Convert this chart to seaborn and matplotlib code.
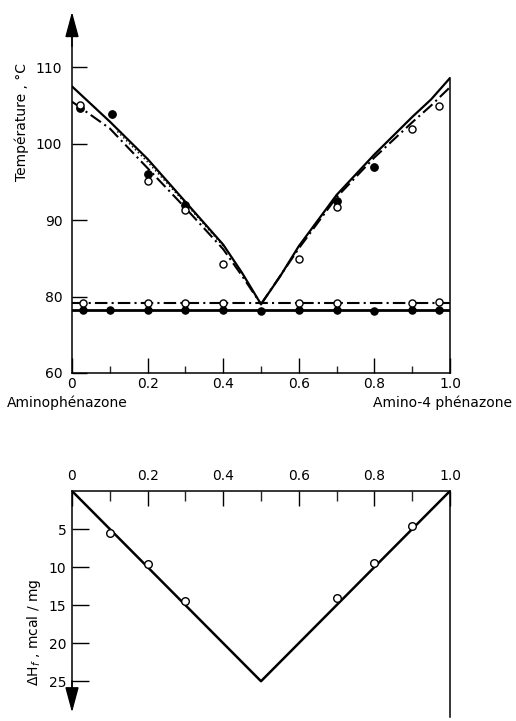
import matplotlib
matplotlib.use("Agg")
import matplotlib.pyplot as plt
import seaborn as sns
import pandas as pd
from matplotlib.ticker import MultipleLocator, FixedLocator

# ---------------- data (top: phase diagram) ----------------
liq_solid_left_x = [0.0, 0.1, 0.2, 0.3, 0.4, 0.45, 0.5]
liq_solid_left_T = [107.5, 102.9, 98.0, 92.4, 86.8, 83.1, 79.0]
liq_solid_right_x = [0.5, 0.55, 0.6, 0.7, 0.8, 0.9, 0.95, 1.0]
liq_solid_right_T = [79.0, 82.6, 86.6, 93.3, 98.6, 103.5, 105.8, 108.6]

liq_dd_left_x = [0.0, 0.1, 0.2, 0.3, 0.4, 0.45, 0.5]
liq_dd_left_T = [105.5, 102.0, 96.8, 91.6, 86.2, 82.7, 79.0]
liq_dd_right_x = [0.5, 0.6, 0.7, 0.8, 0.9, 0.95, 1.0]
liq_dd_right_T = [79.0, 86.3, 93.0, 98.2, 102.8, 105.0, 107.4]

liq_dot_x = [0.12, 0.2, 0.3, 0.4]
liq_dot_T = [101.6, 97.6, 92.2, 86.6]

sol_solid_x = [0.0, 1.0]
sol_solid_T = [78.2, 78.2]
sol_dd_x = [0.0, 1.0]
sol_dd_T = [79.1, 79.1]

liq_open_x = [0.02, 0.2, 0.3, 0.4, 0.6, 0.7, 0.9, 0.97]
liq_open_T = [105.1, 95.1, 91.3, 84.2, 84.9, 91.7, 101.9, 104.9]
liq_fill_x = [0.02, 0.106, 0.2, 0.3, 0.7, 0.8]
liq_fill_T = [104.7, 103.9, 96.0, 92.0, 92.5, 97.0]

sol_open_x = [0.03, 0.2, 0.3, 0.4, 0.6, 0.7, 0.9, 0.97]
sol_open_T = [79.1, 79.1, 79.1, 79.1, 79.1, 79.1, 79.2, 79.3]
sol_fill_x = [0.03, 0.1, 0.2, 0.3, 0.4, 0.5, 0.6, 0.7, 0.8, 0.9, 0.97]
sol_fill_T = [78.2, 78.2, 78.2, 78.2, 78.2, 78.1, 78.2, 78.2, 78.1, 78.3, 78.3]

top_yticks = [70, 80, 90, 100, 110]
top_ytick_labels = ["60", "80", "90", "100", "110"]
x_tick_vals = [0.0, 0.2, 0.4, 0.6, 0.8, 1.0]
x_tick_labels = ["0", "0.2", "0.4", "0.6", "0.8", "1.0"]

# ---------------- data (bottom: enthalpy) ----------------
dh_line_x = [0.0, 0.5, 1.0]
dh_line_v = [0.0, 25.0, 0.0]
dh_pts_x = [0.1, 0.2, 0.3, 0.7, 0.8, 0.9]
dh_pts_v = [5.5, 9.6, 14.4, 14.1, 9.5, 4.6]
bot_yticks = [5, 10, 15, 20, 25]

# ---------------- style ----------------
sns.set_theme(style="white")
plt.rcParams["font.family"] = ["DejaVu Sans"]
plt.rcParams["axes.edgecolor"] = "black"
plt.rcParams["axes.linewidth"] = 1.1

W, H = 516, 721
fig = plt.figure(figsize=(W / 100, H / 100), dpi=100)

def fx(px):
    return px / W

def fy(py):
    return 1 - py / H

# top axes: x 72..450 px, y 10..373 px
ax = fig.add_axes([fx(72), fy(373), fx(450) - fx(72), fy(10) - fy(373)])
# bottom axes: x 72..450 px, y 491..717 px
ax2 = fig.add_axes([fx(72), fy(717), fx(450) - fx(72), fy(491) - fy(717)])

dd = (0, (6, 2, 1, 2))
k = "black"

def line(a, x, y, lw, ls):
    sns.lineplot(x=x, y=y, ax=a, color=k, linewidth=lw, linestyle=ls,
                 sort=False, estimator=None, legend=False)

line(ax, liq_solid_left_x, liq_solid_left_T, 1.6, "-")
line(ax, liq_solid_right_x, liq_solid_right_T, 1.6, "-")
line(ax, liq_dd_left_x, liq_dd_left_T, 1.5, dd)
line(ax, liq_dd_right_x, liq_dd_right_T, 1.5, dd)
line(ax, liq_dot_x, liq_dot_T, 1.0, (0, (1, 2)))
line(ax, sol_solid_x, sol_solid_T, 2.0, "-")
line(ax, sol_dd_x, sol_dd_T, 1.5, dd)

sns.scatterplot(x=sol_fill_x, y=sol_fill_T, ax=ax, color=k, edgecolor=k,
                s=28, linewidth=0.8, zorder=4, clip_on=False)
sns.scatterplot(x=sol_open_x, y=sol_open_T, ax=ax, color="white", edgecolor=k,
                s=26, linewidth=1.0, zorder=5, clip_on=False)
sns.scatterplot(x=liq_fill_x, y=liq_fill_T, ax=ax, color=k, edgecolor=k,
                s=30, linewidth=0.8, zorder=4, clip_on=False)
sns.scatterplot(x=liq_open_x, y=liq_open_T, ax=ax, color="white", edgecolor=k,
                s=26, linewidth=1.0, zorder=5, clip_on=False)

ax.set_xlim(0, 1)
ax.set_ylim(70, 117.5)
ax.spines["top"].set_visible(False)
ax.spines["right"].set_bounds(70, liq_solid_right_T[-1])
ax.spines["left"].set_bounds(70, 114)
ax.xaxis.set_major_locator(FixedLocator(x_tick_vals))
ax.set_xticklabels(x_tick_labels)
ax.xaxis.set_minor_locator(MultipleLocator(0.1))
ax.set_yticks(top_yticks)
ax.set_yticklabels(top_ytick_labels)
ax.tick_params(axis="x", which="major", direction="in", length=11, width=1,
               pad=3, labelsize=10, bottom=True, colors=k)
ax.tick_params(axis="x", which="minor", direction="in", length=5, width=1, bottom=True)
ax.tick_params(axis="y", which="major", direction="in", length=11, width=1,
               pad=7, labelsize=10, left=True, colors=k)
ax.set_xlabel("")
ax.set_ylabel("Température , °C", fontsize=10, color=k)
ax.yaxis.set_label_coords((29 - 72) / 378, (373 - 122) / 363)
ax.annotate("", xy=(0, 0.995), xytext=(0, 0.9), xycoords="axes fraction",
            arrowprops=dict(arrowstyle="-|>,head_length=1.3,head_width=0.35",
                            color=k, lw=1.1, shrinkA=0, shrinkB=0))

# bottom panel
line(ax2, dh_line_x, dh_line_v, 1.8, "-")
sns.scatterplot(x=dh_pts_x, y=dh_pts_v, ax=ax2, color="white", edgecolor=k,
                s=30, linewidth=1.0, zorder=5, clip_on=False)
ax2.set_xlim(0, 1)
ax2.set_ylim(29.7, 0)
ax2.spines["bottom"].set_visible(False)
ax2.spines["left"].set_bounds(0, 27)
ax2.xaxis.tick_top()
ax2.xaxis.set_major_locator(FixedLocator(x_tick_vals))
ax2.set_xticklabels(x_tick_labels)
ax2.xaxis.set_minor_locator(MultipleLocator(0.1))
ax2.set_yticks(bot_yticks)
ax2.tick_params(axis="x", which="major", direction="in", length=11, width=1,
                pad=6, labelsize=10, top=True, bottom=False, colors=k)
ax2.tick_params(axis="x", which="minor", direction="in", length=7, width=1,
                top=True, bottom=False)
ax2.tick_params(axis="y", which="major", direction="in", length=12, width=1,
                pad=4, labelsize=10, left=True, colors=k)
ax2.set_xlabel("")
ax2.set_ylabel("ΔH$_{f}$ , mcal / mg", fontsize=10, color=k)
ax2.yaxis.set_label_coords((43 - 72) / 378, (717 - 632) / 226)
ax2.annotate("", xy=(0, 0.02), xytext=(0, 0.16), xycoords="axes fraction",
             arrowprops=dict(arrowstyle="-|>,head_length=1.3,head_width=0.35",
                             color=k, lw=1.1, shrinkA=0, shrinkB=0))

fig.text(fx(7), fy(403), "Aminophénazone", fontsize=10, ha="left", va="center", color=k)
fig.text(fx(512), fy(403), "Amino-4 phénazone", fontsize=10, ha="right", va="center", color=k)

fig.savefig("out.png", dpi=100)
